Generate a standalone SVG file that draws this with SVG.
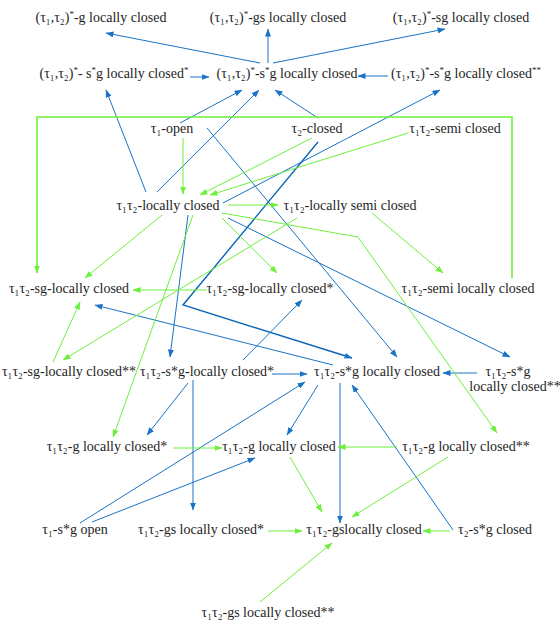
<svg xmlns="http://www.w3.org/2000/svg" width="560" height="621" viewBox="0 0 560 621">
<style>
text{font-family:"Liberation Serif","DejaVu Serif",serif;font-size:14px;fill:#1e1e1e;text-anchor:middle}
.sp{font-size:9px;baseline-shift:super}
.b{fill:none;stroke:#1a73c6;stroke-width:1;marker-end:url(#ab)}
.bt{fill:none;stroke:#0a64b8;stroke-width:1.4;marker-end:url(#ab)}
.g{fill:none;stroke:#6cf03c;stroke-width:1;marker-end:url(#ag)}
.gt{fill:none;stroke:#6cf03c;stroke-width:1.6;marker-end:url(#ag)}
</style>
<defs>
<marker id="ab" markerWidth="8" markerHeight="6" refX="7.5" refY="3" orient="auto" markerUnits="userSpaceOnUse"><path d="M0,0 L8,3 L0,6 z" fill="#1a73c6"/></marker>
<marker id="ag" markerWidth="8" markerHeight="6" refX="7.5" refY="3" orient="auto" markerUnits="userSpaceOnUse"><path d="M0,0 L8,3 L0,6 z" fill="#6cf03c"/></marker>
</defs>
<rect width="560" height="621" fill="#fff"/>
<g id="connectors">
<path class="b" d="M260,63 L106,33"/>
<path class="b" d="M268,63 L268,29"/>
<path class="b" d="M273,63 L445,29"/>
<path class="b" d="M190,77 L209,77"/>
<path class="b" d="M388,76 L358,76"/>
<path class="b" d="M180,123 L242,90"/>
<path class="b" d="M157,192 L259,90"/>
<path class="b" d="M318,118 L275,90"/>
<path class="b" d="M146,192 L106,90"/>
<path class="b" d="M223,203 L440,90"/>
<path class="b" d="M207,128 L397,357"/>
<path class="bt" d="M318,142 L183,305 L352,358"/>
<path class="b" d="M228,218 L510,357"/>
<path class="b" d="M188,215 L170,357"/>
<path class="b" d="M333,365 L95,305"/>
<path class="b" d="M243,360 L302,300"/>
<path class="b" d="M272,374 L307,374"/>
<path class="b" d="M477,373 L443,373"/>
<path class="b" d="M80,523 L305,382"/>
<path class="b" d="M92,522 L255,458"/>
<path class="b" d="M318,385 L287,435"/>
<path class="b" d="M340,383 L340,523"/>
<path class="b" d="M453,530 L352,385"/>
<path class="b" d="M188,383 L147,435"/>
<path class="b" d="M193,380 L193,510"/>
<path class="g" d="M183,138 L183,194"/>
<path class="g" d="M312,138 L200,195"/>
<path class="g" d="M408,133 L210,195"/>
<path class="g" d="M228,205 L278,205"/>
<path class="gt" d="M512,278 L512,117 L37,117 L37,273"/>
<path class="g" d="M162,215 L85,278"/>
<path class="g" d="M193,215 L113,437"/>
<path class="g" d="M222,218 L277,273"/>
<path class="g" d="M222,213 L358,237 L497,433"/>
<path class="g" d="M372,213 L443,273"/>
<path class="g" d="M297,218 L63,360"/>
<path class="g" d="M207,290 L133,290"/>
<path class="g" d="M53,362 L80,302"/>
<path class="g" d="M173,448 L222,448"/>
<path class="g" d="M397,447 L338,447"/>
<path class="g" d="M290,457 L322,512"/>
<path class="g" d="M448,457 L352,517"/>
<path class="g" d="M268,531 L302,531"/>
<path class="g" d="M450,531 L423,531"/>
<path class="g" d="M260,602 L332,543"/>
</g>
<g id="n1"><text x="101" y="22">(τ₁,τ₂)<tspan class="sp">*</tspan>-g locally closed</text></g>
<g id="n2"><text x="278" y="22">(τ₁,τ₂)<tspan class="sp">*</tspan>-gs locally closed</text></g>
<g id="n3"><text x="461" y="22">(τ₁,τ₂)<tspan class="sp">*</tspan>-sg locally closed</text></g>
<g id="n4"><text x="114" y="78">(τ₁,τ₂)<tspan class="sp">*</tspan>- s<tspan class="sp">*</tspan>g locally closed<tspan class="sp">*</tspan></text></g>
<g id="n5"><text x="287" y="78">(τ₁,τ₂)<tspan class="sp">*</tspan>-s<tspan class="sp">*</tspan>g locally closed</text></g>
<g id="n6"><text x="466" y="78">(τ₁,τ₂)<tspan class="sp">*</tspan>-s<tspan class="sp">*</tspan>g locally closed<tspan class="sp">**</tspan></text></g>
<g id="n7"><text x="172" y="133">τ₁-open</text></g>
<g id="n8"><text x="317" y="133">τ₂-closed</text></g>
<g id="n9"><text x="455" y="133">τ₁τ₂-semi closed</text></g>
<g id="n10"><text x="168" y="210">τ₁τ₂-locally closed</text></g>
<g id="n11"><text x="350" y="210">τ₁τ₂-locally semi closed</text></g>
<g id="n12"><text x="69" y="293">τ₁τ₂-sg-locally closed</text></g>
<g id="n13"><text x="270" y="293">τ₁τ₂-sg-locally closed*</text></g>
<g id="n14"><text x="468" y="293">τ₁τ₂-semi locally closed</text></g>
<g id="n15"><text x="69" y="376">τ₁τ₂-sg-locally closed**</text></g>
<g id="n16"><text x="207" y="376">τ₁τ₂-s*g-locally closed*</text></g>
<g id="n17"><text x="377" y="376">τ₁τ₂-s*g locally closed</text></g>
<g id="n18"><text x="508" y="376">τ₁τ₂-s*g</text><text x="515" y="391">locally closed**</text></g>
<g id="n19"><text x="107" y="451">τ₁τ₂-g locally closed*</text></g>
<g id="n20"><text x="279" y="451">τ₁τ₂-g locally closed</text></g>
<g id="n21"><text x="466" y="451">τ₁τ₂-g locally closed**</text></g>
<g id="n22"><text x="75" y="534">τ₁-s*g open</text></g>
<g id="n23"><text x="201" y="534">τ₁τ₂-gs locally closed*</text></g>
<g id="n24"><text x="364" y="534">τ₁τ₂-gslocally closed</text></g>
<g id="n25"><text x="495" y="534">τ₂-s*g closed</text></g>
<g id="n26"><text x="268" y="617">τ₁τ₂-gs locally closed**</text></g>
</svg>
